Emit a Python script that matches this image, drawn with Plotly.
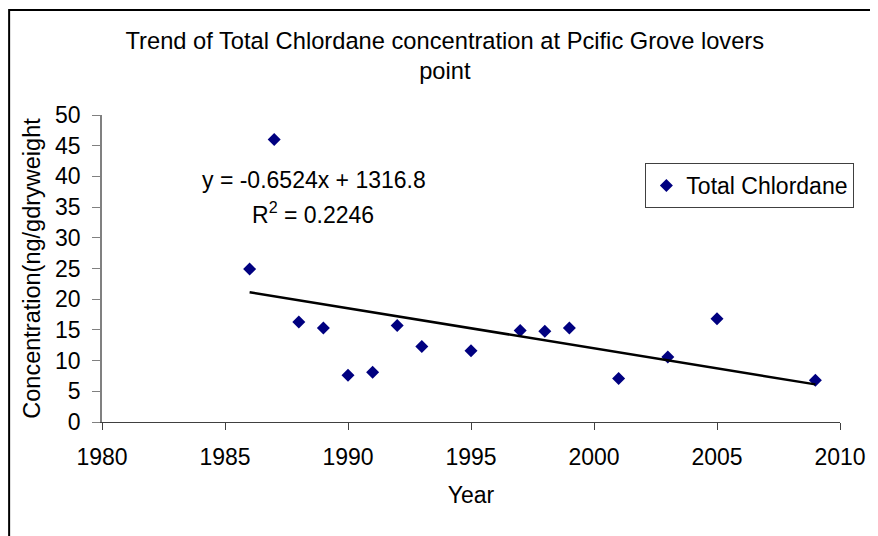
import plotly.graph_objects as go

years = [1986, 1987, 1988, 1989, 1990, 1991, 1992, 1993, 1995, 1997, 1998, 1999, 2001, 2003, 2005, 2009]
chlordane = [24.9, 46.0, 16.3, 15.3, 7.6, 8.1, 15.7, 12.3, 11.6, 14.9, 14.8, 15.3, 7.1, 10.6, 16.8, 6.8]
slope = -0.6524
intercept = 1316.8
r_squared = 0.2246

trend_x = [min(years), max(years)]
trend_y = [slope * x + intercept for x in trend_x]

font_family = "Liberation Sans, Arial, sans-serif"

# page body has an 8px default margin; figure is sized to compensate
OFF = 8
W, H = 878 - OFF, 536 - OFF
PL, PR, PT, PB = 102, 849, 115, 422  # plot area in screen pixels


def px(xs):
    return (xs - PL) / (PR - PL)


def py(ys):
    return (PB - ys) / (PB - PT)


fig = go.Figure()
fig.add_trace(go.Scatter(
    x=years, y=chlordane, mode="markers", name="Total Chlordane",
    marker=dict(symbol="diamond", size=10, color="#000080"),
))
fig.add_trace(go.Scatter(
    x=trend_x, y=trend_y, mode="lines", showlegend=False,
    line=dict(color="black", width=2.5),
))

fig.update_layout(
    width=W, height=H,
    margin=dict(l=PL - OFF, r=W - (PR - OFF), t=PT - OFF, b=H - (PB - OFF)),
    paper_bgcolor="white", plot_bgcolor="white",
    font=dict(family=font_family, size=23, color="black"),
    title=dict(
        text="Trend of Total Chlordane concentration at Pcific Grove lovers<br>point",
        x=px(449), xref="paper", xanchor="center",
        y=1 - (57 - OFF - 8.5) / H, yref="container", yanchor="middle",
        font=dict(size=23.7),
    ),
    xaxis=dict(
        range=[1980, 2010], tickmode="array",
        tickvals=[1980, 1985, 1990, 1995, 2000, 2005, 2010],
        ticks="outside", ticklen=7, tickcolor="#404040",
        ticklabelstandoff=7,
        showline=True, linecolor="#404040", linewidth=1,
        showgrid=False, zeroline=False,
        title=dict(text="Year", standoff=18, font=dict(size=23)),
        tickfont=dict(size=23),
    ),
    yaxis=dict(
        range=[0, 50], tickmode="array",
        tickvals=list(range(0, 51, 5)),
        ticks="outside", ticklen=8, tickcolor="#808080",
        ticklabelstandoff=7,
        showline=True, linecolor="#808080", linewidth=1.5,
        showgrid=False, zeroline=False,
        title=dict(text="Concentration(ng/gdryweight", standoff=8, font=dict(size=23.5)),
        tickfont=dict(size=23),
    ),
    legend=dict(
        x=px(652), y=py(163), xanchor="left", yanchor="top",
        bordercolor="#404040", borderwidth=1, bgcolor="white",
        font=dict(size=23), itemwidth=30,
    ),
    showlegend=True,
)

fig.add_annotation(
    text=f"y = {slope}x + {intercept}", x=px(317), y=py(180),
    xanchor="center", yanchor="middle",
    xref="paper", yref="paper", showarrow=False, font=dict(size=23),
)
fig.add_annotation(
    text=f"R<sup>2</sup> = {r_squared}", x=px(316), y=py(213),
    xanchor="center", yanchor="middle",
    xref="paper", yref="paper", showarrow=False, font=dict(size=23),
)

fig.add_shape(
    type="rect", xref="paper", yref="paper",
    x0=px(8), x1=1.2, y0=-0.6, y1=py(10),
    line=dict(color="black", width=2), fillcolor="rgba(0,0,0,0)", layer="below",
)

fig.write_html("out.html")
